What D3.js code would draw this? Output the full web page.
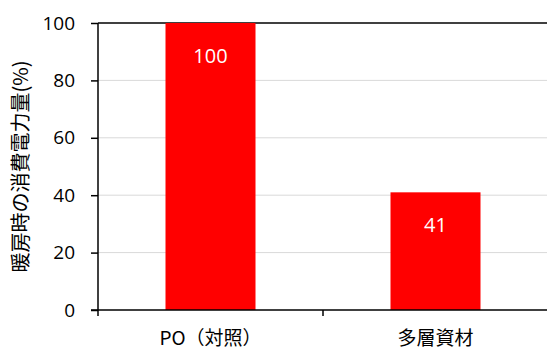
<!DOCTYPE html>
<html>
<head>
<meta charset="utf-8">
<script src="https://cdn.jsdelivr.net/npm/d3@7"></script>
<style>
  body { margin: 0; background: #fff; }
  text { font-family: "Noto Sans CJK JP", "Noto Sans", sans-serif; }
</style>
</head>
<body>
<div id="chart"></div>
<script>
// Data
var categories = ["PO（対照）", "多層資材"];
var values = [100, 41];
var yTicks = [0, 20, 40, 60, 80, 100];

var W = 547, H = 354;
var margin = {top: 23, right: 0, bottom: 44, left: 98};

var svg = d3.select("#chart").append("svg")
    .attr("width", W)
    .attr("height", H);

var x = d3.scaleBand()
    .domain(categories)
    .range([margin.left, W + 1])
    .paddingInner(0.6)
    .paddingOuter(0.3);

var y = d3.scaleLinear()
    .domain([0, 100])
    .range([H - margin.bottom, margin.top]);

// Gridlines
svg.append("g")
  .selectAll("line")
  .data(yTicks.filter(function(d) { return d > 0 && d < 100; }))
  .enter().append("line")
    .attr("x1", margin.left)
    .attr("x2", W)
    .attr("y1", function(d) { return y(d); })
    .attr("y2", function(d) { return y(d); })
    .attr("stroke", "#d9d9d9")
    .attr("stroke-width", 1);

// top line
svg.append("line")
    .attr("x1", margin.left).attr("x2", W)
    .attr("y1", y(100)).attr("y2", y(100))
    .attr("stroke", "#000").attr("stroke-width", 1.5);

// Bars
svg.append("g")
  .selectAll("rect")
  .data(values)
  .enter().append("rect")
    .attr("x", function(d, i) { return x(categories[i]); })
    .attr("width", x.bandwidth())
    .attr("y", function(d) { return y(d); })
    .attr("height", function(d) { return y(0) - y(d); })
    .attr("fill", "#ff0000");

// Value labels
svg.append("g")
  .selectAll("text")
  .data(values)
  .enter().append("text")
    .attr("x", function(d, i) { return x(categories[i]) + x.bandwidth() / 2; })
    .attr("y", function(d) { return y(d) + 33; })
    .attr("dy", "0.35em")
    .attr("text-anchor", "middle")
    .attr("fill", "#fff")
    .style("font-size", "20px")
    .style("font-family", "'Open Sans', 'Noto Sans', sans-serif")
    .text(function(d) { return d; });

// Y axis
var yAxis = svg.append("g")
    .attr("transform", "translate(" + margin.left + ",0)")
    .call(d3.axisLeft(y).tickValues(yTicks).tickSize(7).tickPadding(16));
yAxis.selectAll("path, line").attr("stroke", "#000").attr("stroke-width", 1.5);
yAxis.select(".domain").attr("d", "M0," + y(0) + "V" + y(100));
yAxis.selectAll("text").style("font-size", "19px").attr("fill", "#000")
    .style("font-family", "'Open Sans', 'Noto Sans', sans-serif");

// X axis
var xAxis = svg.append("g")
    .attr("transform", "translate(0," + y(0) + ")");
xAxis.append("line")
    .attr("x1", margin.left - 7).attr("x2", W)
    .attr("stroke", "#000").attr("stroke-width", 1.5);
xAxis.selectAll("line.tick")
  .data([0, 1, 2])
  .enter().append("line")
    .attr("class", "tick")
    .attr("x1", function(d) { return margin.left + d * x.step(); })
    .attr("x2", function(d) { return margin.left + d * x.step(); })
    .attr("y1", 0).attr("y2", 6)
    .attr("stroke", "#000").attr("stroke-width", 1.5);
xAxis.selectAll("text")
  .data(categories)
  .enter().append("text")
    .attr("x", function(d) { return x(d) + x.bandwidth() / 2; })
    .attr("y", 28)
    .attr("dy", "0.35em")
    .attr("text-anchor", "middle")
    .style("font-size", "19px")
    .attr("fill", "#000")
    .text(function(d) { return d; });

// Y label
svg.append("text")
    .attr("transform", "translate(21," + (y(50)) + ") rotate(-90)")
    .attr("text-anchor", "middle")
    .attr("dy", "0.35em")
    .style("font-size", "20px")
    .attr("fill", "#000")
    .text("暖房時の消費電力量(%)");
</script>
</body>
</html>
